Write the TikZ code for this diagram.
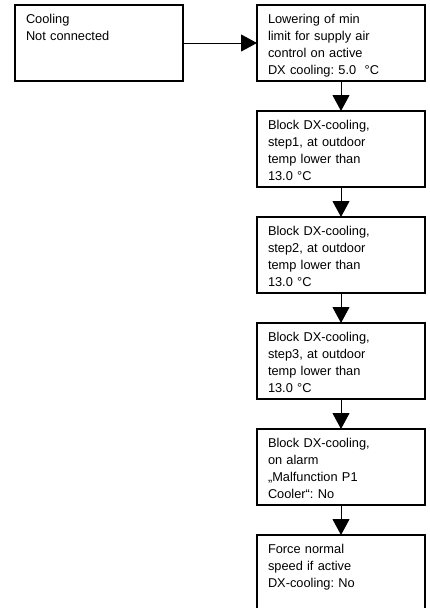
\documentclass[tikz,border=0pt]{standalone}
\usepackage{fontspec}
\setmainfont{Liberation Sans}
\usetikzlibrary{arrows.meta, positioning}

\begin{document}
\begin{tikzpicture}[>={Triangle[length=16pt, width=17pt]}, x=1pt, y=-1pt,
    box/.style={draw, line width=1.2pt, anchor=north west, outer sep=0pt,
                minimum width=168pt, minimum height=76pt,
                text width=146pt, align=left, inner xsep=11pt, inner ysep=9pt,
                text height=9pt, text depth=49pt,
                font=\fontsize{12.8}{17.2}\selectfont\frenchspacing},
    link/.style={->, line width=1pt}]
  \useasboundingbox (0,0) rectangle (430,608);

  % Start box and first setting
  \node[box] (cool) at (15,5) {Cooling\\Not connected};
  \node[box] (b1) at (257,5)
    {Lowering of min\\limit for supply air\\control on active\\DX cooling: 5.0\ \ °C};
  \draw[link] (cool) -- (b1);

  % Chain of settings below
  \foreach \i/\t in {2/{Block DX-cooling,\\step1, at outdoor\\temp lower than\\13.0 °C},
                     3/{Block DX-cooling,\\step2, at outdoor\\temp lower than\\13.0 °C},
                     4/{Block DX-cooling,\\step3, at outdoor\\temp lower than\\13.0 °C},
                     5/{Block DX-cooling,\\on alarm\\„Malfunction P1\\Cooler“: No},
                     6/{Force normal\\speed if active\\DX-cooling: No}} {
    \pgfmathtruncatemacro{\j}{\i-1}
    \node[box, below=30pt of b\j] (b\i) {\t};
    \draw[link] (b\j) -- (b\i);
  }
\end{tikzpicture}
\end{document}
